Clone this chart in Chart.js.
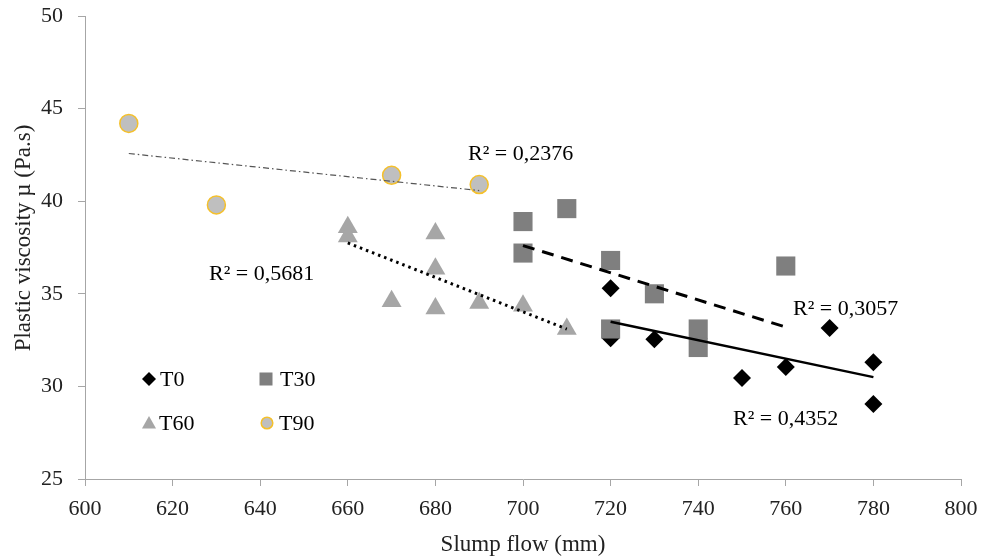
<!DOCTYPE html>
<html>
<head>
<meta charset="utf-8">
<script src="https://cdn.jsdelivr.net/npm/chart.js@4.4.0/dist/chart.umd.min.js"></script>
<style>
  html, body { margin: 0; padding: 0; background: #fff; }
  #wrap { width: 982px; height: 560px; }
</style>
</head>
<body>
<div id="wrap"><canvas id="myChart" width="982" height="560"></canvas></div>
<script>
// slump flow (mm) / plastic viscosity (Pa.s)
const t0X = [720, 720, 730, 750, 760, 770, 780, 780]
const t0Y = [35.3, 32.6, 32.55, 30.45, 31.05, 33.15, 31.3, 29.05]

const t30X = [700, 700, 710, 720, 720, 730, 740, 740, 760]
const t30Y = [38.9, 37.2, 39.6, 36.8, 33.1, 35.0, 33.1, 32.1, 36.5]

const t60X = [660, 660, 670, 680, 680, 680, 690, 700, 710]
const t60Y = [38.6, 38.1, 34.6, 38.25, 36.35, 34.2, 34.5, 34.35, 33.1]

const t90X = [610, 630, 670, 690]
const t90Y = [44.2, 39.8, 41.4, 40.9]

const r2Labels = ['R² = 0,4352', 'R² = 0,3057', 'R² = 0,5681', 'R² = 0,2376']
const xTicks = [600, 620, 640, 660, 680, 700, 720, 740, 760, 780, 800]
const yTicks = [25, 30, 35, 40, 45, 50]

const serif = "'Liberation Serif', 'Times New Roman', serif"

const pts = (xs, ys) => xs.map((x, i) => ({ x: x, y: ys[i] }))

// least squares line, drawn between min and max x
const trend = (xs, ys) => {
  const n = xs.length
  const mx = xs.reduce((a, b) => a + b, 0) / n
  const my = ys.reduce((a, b) => a + b, 0) / n
  let sxy = 0, sxx = 0
  xs.forEach((x, i) => { sxy += (x - mx) * (ys[i] - my); sxx += (x - mx) * (x - mx) })
  const b = sxy / sxx
  const x1 = Math.min(...xs), x2 = Math.max(...xs)
  return [{ x: x1, y: my + b * (x1 - mx) }, { x: x2, y: my + b * (x2 - mx) }]
}

const trendLine = (xs, ys, color, width, dash) => ({
  type: 'line',
  data: trend(xs, ys),
  borderColor: color,
  borderWidth: width,
  borderDash: dash,
  pointRadius: 0,
  fill: false,
  order: 0
})

// y title, legend + R² texts
const extrasPlugin = {
  id: 'extras',
  afterDraw(chart) {
    const ctx = chart.ctx
    ctx.save()

    ctx.save()
    ctx.translate(24, 238)
    ctx.rotate(-Math.PI / 2)
    ctx.font = '23px ' + serif
    ctx.fillStyle = '#222'
    ctx.textAlign = 'center'
    ctx.textBaseline = 'middle'
    ctx.fillText('Plastic viscosity µ (Pa.s)', 0, 0)
    ctx.restore()

    ctx.font = '22px ' + serif
    ctx.fillStyle = '#000'
    ctx.textBaseline = 'middle'
    ctx.textAlign = 'left'

    const r2Pos = [[733, 419], [793, 309], [209, 274], [468, 154]]
    r2Labels.forEach((t, i) => ctx.fillText(t, r2Pos[i][0], r2Pos[i][1]))

    // legend
    const items = [
      { t: 'T0', x: 149, y: 379, tx: 160 },
      { t: 'T30', x: 266, y: 379, tx: 280 },
      { t: 'T60', x: 149, y: 423, tx: 159 },
      { t: 'T90', x: 267, y: 423, tx: 279 }
    ]
    items.forEach((it, i) => {
      ctx.beginPath()
      if (i === 0) {
        ctx.moveTo(it.x - 7, it.y); ctx.lineTo(it.x, it.y - 7)
        ctx.lineTo(it.x + 7, it.y); ctx.lineTo(it.x, it.y + 7)
        ctx.closePath(); ctx.fillStyle = '#000'; ctx.fill()
      } else if (i === 1) {
        ctx.fillStyle = '#7f7f7f'; ctx.fillRect(it.x - 6.5, it.y - 6.5, 13, 13)
      } else if (i === 2) {
        ctx.moveTo(it.x, it.y - 7); ctx.lineTo(it.x + 7, it.y + 5.5); ctx.lineTo(it.x - 7, it.y + 5.5)
        ctx.closePath(); ctx.fillStyle = '#a6a6a6'; ctx.fill()
      } else {
        ctx.arc(it.x, it.y, 5.8, 0, Math.PI * 2)
        ctx.fillStyle = '#bfbfbf'; ctx.fill()
        ctx.lineWidth = 1.5; ctx.strokeStyle = '#f5c02a'; ctx.stroke()
      }
      ctx.fillStyle = '#000'
      ctx.fillText(it.t, it.tx, it.y + 1)
    })
    ctx.restore()
  }
}

const ctx = document.getElementById('myChart').getContext('2d')
new Chart(ctx, {
  type: 'scatter',
  data: {
    datasets: [
      trendLine(t0X, t0Y, '#000', 2.5, []),
      trendLine(t30X, t30Y, '#000', 3, [12, 8]),
      trendLine(t60X, t60Y, '#000', 3, [2.5, 4]),
      trendLine(t90X, t90Y, '#555', 1.2, [6, 3, 1.5, 3]),
      {
        label: 'T90',
        data: pts(t90X, t90Y),
        pointStyle: 'circle',
        pointRadius: 9,
        backgroundColor: '#bfbfbf',
        borderColor: '#f5c02a',
        borderWidth: 1.5,
        order: 1
      },
      {
        label: 'T60',
        data: pts(t60X, t60Y),
        pointStyle: 'triangle',
        pointRadius: 11.5,
        backgroundColor: '#a6a6a6',
        borderColor: '#a6a6a6',
        borderWidth: 0,
        order: 2
      },
      {
        label: 'T30',
        data: pts(t30X, t30Y),
        pointStyle: 'rect',
        pointRadius: 13.5,
        backgroundColor: '#7f7f7f',
        borderColor: '#7f7f7f',
        borderWidth: 0,
        order: 3
      },
      {
        label: 'T0',
        data: pts(t0X, t0Y),
        pointStyle: 'rectRot',
        pointRadius: 9,
        backgroundColor: '#000',
        borderColor: '#000',
        borderWidth: 0,
        order: 4
      }
    ]
  },
  options: {
    responsive: false,
    animation: false,
    layout: { padding: { top: 16, right: 21, left: 0, bottom: 0 } },
    plugins: {
      legend: { display: false },
      tooltip: { enabled: false }
    },
    scales: {
      x: {
        type: 'linear',
        min: 600,
        max: 800,
        afterBuildTicks: s => { s.ticks = xTicks.map(v => ({ value: v })) },
        afterFit: s => { s.height = 81; s.paddingLeft = 0; s.paddingRight = 0 },
        grid: { display: true, drawOnChartArea: false, drawTicks: true, tickLength: 7, color: '#a6a6a6' },
        border: { display: true, color: '#a6a6a6', width: 1 },
        ticks: { color: '#222', font: { family: serif, size: 22 }, padding: 10, maxRotation: 0 },
        title: { display: true, text: 'Slump flow (mm)', color: '#222', font: { family: serif, size: 23 }, padding: { top: 0, bottom: 1 } }
      },
      y: {
        type: 'linear',
        min: 25,
        max: 50,
        afterBuildTicks: s => { s.ticks = yTicks.map(v => ({ value: v })) },
        afterFit: s => { s.width = 85; s.paddingTop = 0; s.paddingBottom = 0 },
        grid: { display: true, drawOnChartArea: false, drawTicks: true, tickLength: 7, color: '#a6a6a6' },
        border: { display: true, color: '#a6a6a6', width: 1 },
        ticks: { color: '#222', font: { family: serif, size: 22 }, padding: 15 },
        title: { display: false }
      }
    }
  },
  plugins: [extrasPlugin]
})
</script>
</body>
</html>
